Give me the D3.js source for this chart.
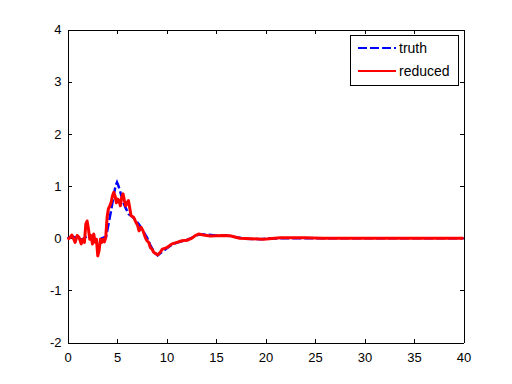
<!DOCTYPE html>
<html>
<head>
<meta charset="utf-8">
<script src="https://cdn.jsdelivr.net/npm/d3@7"></script>
<style>
  body { margin: 0; background: #fff; }
  svg { display: block; font-family: "Liberation Sans", Arial, Helvetica, sans-serif; }
  .axis text { font-size: 13px; fill: #000; }
  .axis path, .axis line { stroke: #000; shape-rendering: crispEdges; }
</style>
</head>
<body>
<svg id="chart" width="512" height="384"></svg>
<script>
// time samples and values
var truthT = [0, 0.5, 1, 1.5, 2, 2.5, 3, 3.5, 3.9, 4.2, 4.4, 4.6, 4.85, 5.0, 5.15, 5.34, 5.6, 5.85, 6.18, 6.5, 6.85, 7.19, 7.5, 8.03, 8.4, 8.8, 9.1, 9.5, 10, 10.5, 11, 11.5, 12, 12.5, 13, 13.3, 14, 15, 16, 17, 18, 19.5, 20, 22, 40];
var truthV = [0, 0.03, 0.0, -0.03, 0.05, 0.0, -0.05, 0.0, 0.03, 0.33, 0.53, 0.75, 1.0, 1.07, 1.0, 0.88, 0.7, 0.59, 0.46, 0.42, 0.35, 0.27, 0.18, 0.01, -0.15, -0.28, -0.33, -0.27, -0.2, -0.13, -0.09, -0.06, -0.04, 0.0, 0.05, 0.07, 0.07, 0.05, 0.05, 0.02, -0.01, -0.02, -0.01, 0.0, 0.0];

var reducedT = [0, 0.2, 0.43, 0.64, 0.77, 0.98, 1.18, 1.38, 1.55, 1.71, 1.85, 1.98, 2.12, 2.25, 2.39, 2.52, 2.65, 2.79, 2.92, 3.06, 3.19, 3.33, 3.46, 3.6, 3.73, 3.86, 4.0, 4.13, 4.27, 4.4, 4.54, 4.67, 4.8, 4.94, 5.07, 5.21, 5.34, 5.47, 5.61, 5.75, 5.88, 6.02, 6.15, 6.28, 6.42, 6.68, 6.85, 7.09, 7.23, 7.43, 7.63, 7.86, 8.03, 8.2, 8.37, 8.54, 8.7, 9.1, 9.37, 9.58, 10.05, 10.55, 11.06, 11.56, 12.07, 12.57, 12.9, 13.24, 13.74, 14.4, 15.76, 16.4, 17.4, 19.8, 21.5, 24, 25.8, 40];
var reducedV = [-0.02, 0.0, 0.06, -0.02, -0.08, 0.05, 0.01, -0.11, -0.02, -0.08, 0.27, 0.33, 0.17, -0.02, 0.05, -0.11, 0.08, -0.08, -0.02, -0.34, -0.24, -0.02, -0.08, -0.02, -0.07, 0.01, 0.4, 0.56, 0.62, 0.68, 0.81, 0.88, 0.81, 0.68, 0.75, 0.72, 0.62, 0.78, 0.85, 0.72, 0.62, 0.68, 0.72, 0.59, 0.43, 0.40, 0.33, 0.24, 0.14, 0.21, 0.14, 0.01, -0.05, -0.08, -0.18, -0.21, -0.27, -0.32, -0.27, -0.21, -0.18, -0.11, -0.08, -0.05, -0.04, 0.0, 0.05, 0.08, 0.06, 0.04, 0.05, 0.045, 0.0, -0.02, 0.01, 0.01, 0.0, 0.0];

var xTicks = [0, 5, 10, 15, 20, 25, 30, 35, 40];
var yTicks = [-2, -1, 0, 1, 2, 3, 4];
var legendLabels = ['truth', 'reduced'];

var svg = d3.select('#chart');
var x = d3.scaleLinear().domain([0, 40]).range([67.5, 463.5]);
var y = d3.scaleLinear().domain([-2, 4]).range([342.5, 29.5]);

// axes box with inward ticks on all four sides
svg.append('g').attr('class', 'axis').attr('transform', 'translate(0,342.5)')
	.call(d3.axisBottom(x).tickValues(xTicks).tickSizeInner(-4).tickSizeOuter(0).tickPadding(10).tickFormat(d3.format('d')));
svg.append('g').attr('class', 'axis').attr('transform', 'translate(0,29.5)')
	.call(d3.axisTop(x).tickValues(xTicks).tickSizeInner(-4).tickSizeOuter(0).tickFormat(''));
svg.append('g').attr('class', 'axis').attr('transform', 'translate(67.5,0)')
	.call(d3.axisLeft(y).tickValues(yTicks).tickSizeInner(-4).tickSizeOuter(0).tickPadding(6).tickFormat(d3.format('d')));
svg.append('g').attr('class', 'axis').attr('transform', 'translate(463.5,0)')
	.call(d3.axisRight(y).tickValues(yTicks).tickSizeInner(-4).tickSizeOuter(0).tickFormat(''));
svg.selectAll('.axis text').text(function() { return this.textContent.replace('−', '-'); });

var line = d3.line().x(function(d) { return x(d[0]); }).y(function(d) { return y(d[1]); });

svg.append('path')
	.datum(d3.zip(truthT, truthV))
	.attr('d', line)
	.attr('fill', 'none').attr('stroke', '#0000ff').attr('stroke-width', 2.5)
	.attr('stroke-dasharray', '9,3');

svg.append('path')
	.datum(d3.zip(reducedT, reducedV))
	.attr('d', line)
	.attr('fill', 'none').attr('stroke', '#ff0000').attr('stroke-width', 3)
	.attr('stroke-linejoin', 'round');

// legend
var lg = svg.append('g');
lg.append('rect').attr('x', 350.5).attr('y', 35.5).attr('width', 108).attr('height', 50)
	.attr('fill', '#fff').attr('stroke', '#000').attr('shape-rendering', 'crispEdges');
var styles = [{c: '#0000ff', dash: '9,3', y: 48}, {c: '#ff0000', dash: null, y: 71}];
legendLabels.forEach(function(lbl, i) {
	lg.append('line').attr('x1', 358).attr('x2', 396).attr('y1', styles[i].y).attr('y2', styles[i].y)
		.attr('stroke', styles[i].c).attr('stroke-width', 2).attr('stroke-dasharray', styles[i].dash);
	lg.append('text').attr('x', 399).attr('y', styles[i].y + 5).attr('font-size', 14).text(lbl);
});
</script>
</body>
</html>
